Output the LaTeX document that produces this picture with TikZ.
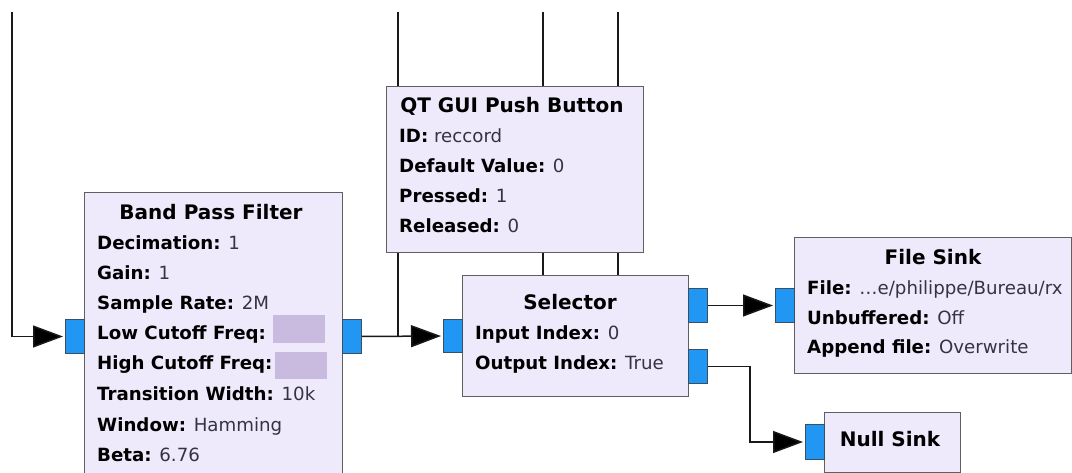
\documentclass[tikz,border=0pt]{standalone}
\usepackage{fontspec}
\setmainfont{DejaVu Sans}
\usetikzlibrary{arrows.meta}
\definecolor{blockfill}{HTML}{EEEAFC}
\definecolor{blockline}{HTML}{5F5F5F}
\definecolor{portfill}{HTML}{2196F3}
\definecolor{portline}{HTML}{3B4F63}
\definecolor{phfill}{HTML}{C9BADF}
\definecolor{valcol}{HTML}{333344}
\newcommand\pline[2]{{\bfseries\color{black}#1:} #2}
\begin{document}
\begin{tikzpicture}[x=1pt,y=-1pt,
 block/.style={draw=blockline, fill=blockfill, line width=1.4pt, anchor=north west, inner sep=0pt},
 port/.style={draw=portline, fill=portfill, line width=1pt, anchor=north west, inner sep=0pt, minimum width=19pt, minimum height=34pt},
 ph/.style={fill=phfill, anchor=north west, inner sep=0pt, minimum width=52pt, minimum height=28pt},
 title/.style={anchor=base, font=\fontsize{20}{24}\selectfont\bfseries, inner sep=0pt},
 param/.style={anchor=base west, font=\fontsize{18.2}{22}\selectfont, inner sep=0pt, text=valcol},
 conn/.style={draw=black!90, line width=1.5pt},
 flow/.style={conn, -{Triangle[length=30pt,width=22pt,fill=black]}, shorten >=2pt},
]
\useasboundingbox (0,0) rectangle (1072,473);
\clip (0,0) rectangle (1072,473);
\fill[white] (0,0) rectangle (1072,473);

% top coordinates (connections coming from outside the view)
\coordinate (t0) at (12,12);
\coordinate (t1) at (398,12);
\coordinate (t2) at (543,12);
\coordinate (t3) at (618,12);

% blocks
\node[block, minimum width=258pt, minimum height=298pt] (bpf) at (84,192) {};
\node[block, minimum width=257pt, minimum height=166pt] (qt) at (386,86) {};
\node[block, minimum width=226pt, minimum height=121pt] (sel) at (462,275) {};
\node[block, minimum width=277pt, minimum height=136pt] (fs) at (794,237) {};
\node[block, minimum width=136pt, minimum height=60pt] (ns) at (824,412) {};

% ports
\node[port] (bpfin) at (65,319) {};
\node[port] (bpfout) at (342,319) {};
\node[port, minimum height=33pt] (selin) at (443,319) {};
\node[port] (selout0) at (688,288) {};
\node[port] (selout1) at (688,349) {};
\node[port] (fsin) at (775,288) {};
\node[port, minimum height=35pt] (nsin) at (805,424) {};

% placeholders
\node[ph] (ph1) at (273,315) {};
\node[ph, minimum height=27pt] (ph2) at (275,352) {};

% Band Pass Filter text
\node[title] (bpft) at (211,220) {Band Pass Filter};
\node[param] (bpf1) at (97,250) {\pline{Decimation}{1}};
\node[param] (bpf2) at (97,280) {\pline{Gain}{1}};
\node[param] (bpf3) at (97,310) {\pline{Sample Rate}{2M}};
\node[param] (bpf4) at (97,340) {\pline{Low Cutoff Freq}{}};
\node[param] (bpf5) at (97,370) {\pline{High Cutoff Freq}{}};
\node[param] (bpf6) at (97,400) {\pline{Transition Width}{10k}};
\node[param] (bpf7) at (97,431) {\pline{Window}{Hamming}};
\node[param] (bpf8) at (97,461) {\pline{Beta}{6.76}};

% QT GUI Push Button text
\node[title] (qtt) at (512,113) {QT GUI Push Button};
\node[param] (qt1) at (399,143) {\pline{ID}{reccord}};
\node[param] (qt2) at (399,173) {\pline{Default Value}{0}};
\node[param] (qt3) at (399,203) {\pline{Pressed}{1}};
\node[param] (qt4) at (399,233) {\pline{Released}{0}};

% Selector text
\node[title] (selt) at (570,310) {Selector};
\node[param] (sel1) at (475,340) {\pline{Input Index}{0}};
\node[param] (sel2) at (475,370) {\pline{Output Index}{True}};

% File Sink text
\node[title] (fst) at (933,265) {File Sink};
\node[param] (fs1) at (807,295) {\pline{File}{…e/philippe/Bureau/rx}};
\node[param] (fs2) at (807,325) {\pline{Unbuffered}{Off}};
\node[param] (fs3) at (807,354) {\pline{Append file}{Overwrite}};

% Null Sink text
\node[title] (nst) at (890,446) {Null Sink};

% message connections
\draw[conn] (t1) -- (t1 |- qt.north);
\draw[conn] (t2) -- (t2 |- qt.north);
\draw[conn] (t3) -- (t3 |- qt.north);
\coordinate (j) at (398,0 |- bpfout.east);
\draw[conn] (j |- qt.south) -- (j);
\draw[conn] (t2 |- qt.south) -- (t2 |- sel.north);
\draw[conn] (t3 |- qt.south) -- (t3 |- sel.north);

% stream connections
\draw[flow] (t0) |- (bpfin.west);
\draw[flow] (bpfout.east) -- (selin.west);
\draw[flow] (selout0.east) -- (fsin.west);
\coordinate (bend) at (750,0 |- nsin.west);
\draw[flow] (selout1.east) -| (bend) -- (nsin.west);
\end{tikzpicture}
\end{document}
